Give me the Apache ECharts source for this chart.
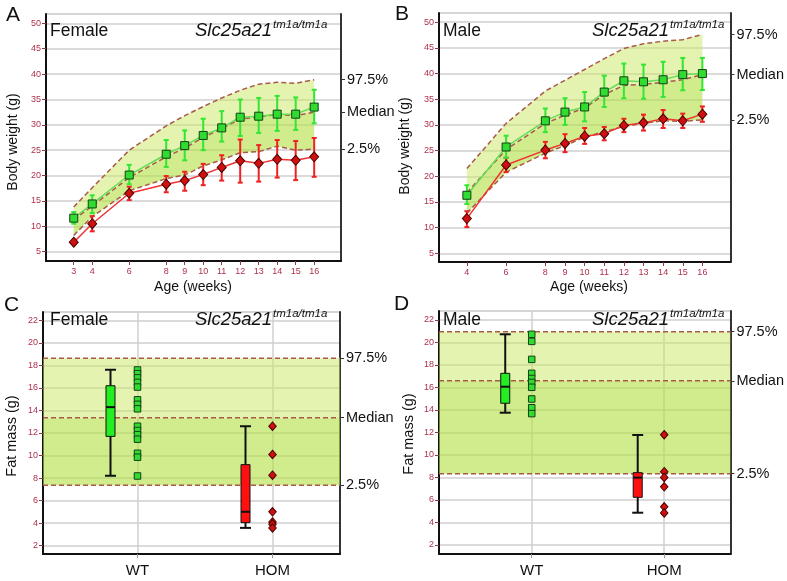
<!DOCTYPE html>
<html><head><meta charset="utf-8">
<script src="https://cdn.jsdelivr.net/npm/echarts@6/dist/echarts.min.js"></script>
<style>html,body{margin:0;padding:0;background:#fff}#c{width:787px;height:581px}</style>
</head><body><div id="c"></div>
<script>
// ---------- Panel A (Female body weight) ----------
const weeksA = [3,4,6,8,9,10,11,12,13,14,15,16];
const wtMeanA = [11.6,14.4,20.1,24.2,25.9,27.9,29.4,31.5,31.7,32.1,32.1,33.5];
const wtLowA  = [10.5,12.6,18.3,21.7,23.0,25.0,26.7,27.8,28.4,28.8,29.0,30.3];
const wtHighA = [12.8,16.1,22.1,27.0,28.9,31.2,32.7,35.0,35.3,35.7,35.4,36.9];
const homMeanA = [6.85,10.5,16.5,18.3,19.0,20.2,21.6,22.9,22.4,23.2,23.0,23.7];
const homLowA  = [6.85,9.0,15.15,16.7,17.0,18.1,19.0,18.6,18.8,19.6,19.1,19.75];
const homHighA = [6.85,12.0,17.8,19.9,20.75,22.3,24.0,27.1,26.0,27.0,26.8,27.4];
const bandUpperA  = [13.8,17.6,25.0,29.8,31.8,33.6,35.3,36.8,38.0,38.4,38.2,38.9];
const bandMedianA = [11.3,14.0,19.6,23.7,25.4,27.5,29.3,31.1,31.6,32.0,31.8,32.5];
const bandLowerA  = [8.2,11.9,17.0,19.4,20.1,21.9,23.1,24.5,24.7,25.8,25.0,25.2];

// ---------- Panel B (Male body weight) ----------
const weeksB = [4,6,8,9,10,11,12,13,14,15,16];
const wtMeanB = [16.3,25.7,30.8,32.5,33.5,36.4,38.6,38.4,38.8,39.8,40.0];
const wtLowB  = [14.6,23.6,28.6,30.0,30.7,33.5,35.2,35.1,35.45,36.75,36.8];
const wtHighB = [18.25,27.9,33.2,35.2,36.4,39.6,41.95,41.75,42.3,43.05,43.05];
const homMeanB = [11.75,22.2,25.1,26.4,27.8,28.3,29.9,30.4,31.2,30.8,32.1];
const homLowB  = [10.1,20.8,23.5,24.7,26.3,27.0,28.6,28.9,29.4,29.4,30.6];
const homHighB = [13.2,23.6,26.7,28.2,29.4,29.6,31.2,32.0,32.9,32.2,33.6];
const bandUpperB  = [21.5,30.3,36.6,38.7,40.8,42.9,44.9,45.8,46.3,46.6,47.6];
const bandMedianB = [16.8,25.2,30.3,31.9,33.3,35.9,37.7,37.9,38.3,38.8,39.8];
const bandLowerB  = [12.8,20.8,24.5,26.0,27.6,28.7,29.7,30.3,30.8,30.7,31.0];

// ---------- Panels C/D (Fat mass) ----------
const boxCats = ['WT','HOM'];
// [min, q1, median, q3, max]
const boxC = [[8.2,11.7,14.3,16.2,17.62],[3.57,4.04,5.0,9.19,12.6]];
const ptsWtC  = [17.6,17.27,16.9,16.5,16.08,14.95,14.55,14.15,12.6,12.22,11.85,11.45,10.2,9.85,8.18];
const ptsHomC = [12.6,10.1,8.25,5.0,4.1,3.9,3.57];
const refC = [7.36,13.36,18.63];   // 2.5%, Median, 97.5%
const boxD = [[13.76,14.6,16.07,17.26,20.73],[4.87,6.24,7.99,8.43,11.78]];
const ptsWtD  = [20.73,20.1,18.5,17.26,16.8,16.45,16.02,14.98,14.2,13.68];
const ptsHomD = [11.8,8.52,8.01,7.17,5.39,4.85];
const refD = [8.34,16.6,20.96];
const refNames = ['2.5%','Median','97.5%'];

// ---------- styles ----------
const FONT = '"Liberation Sans", Arial, sans-serif';
const TICK_RED = '#b0304a';
const GRID_GRAY = '#cfcfcf';
const DASH = '#a85a48';
const BAND_LIGHT = 'rgba(201,233,97,0.5)';
const BAND_DARK = 'rgba(177,223,63,0.6)';
const WT_FILL = '#2fdc2f', WT_LINE = '#66dd55', WT_ERR = '#33e633', WT_EDGE = '#154015';
const HOM_FILL = '#d01010', HOM_LINE = '#ee3333', HOM_ERR = '#ee2222', HOM_EDGE = '#4a0000';
const BOX_COLORS = ['#22ee22', '#ff1010'];
const BOX_SHIFT = 0.2;

const X_A = [1.5, 17.45], X_B = [2.58, 17.43], X_CD = [0.3, 2.5];
const Y_A = [3.15, 51.85], Y_B = [3.3, 51.8], Y_C = [1.25, 22.75], Y_D = [1.2, 22.8];

const chart = echarts.init(document.getElementById('c'), null, {renderer: 'canvas'});

function leftY(gi, ext, step) {
  return {type: 'value', gridIndex: gi, position: 'left', min: ext[0], max: ext[1],
    splitNumber: Math.round((ext[1] - ext[0]) / step), minInterval: step, maxInterval: step,
    axisLine: {show: true, onZero: false, lineStyle: {color: '#111', width: 2}},
    axisTick: {show: true, length: 4, lineStyle: {color: '#8a3a4a'}},
    axisLabel: {color: TICK_RED, fontSize: 9, fontFamily: FONT, margin: 5, showMinLabel: false, showMaxLabel: false},
    splitLine: {show: true, lineStyle: {color: GRID_GRAY, width: 1.5}}};
}
function rightY(gi, ext, vals) {
  return {type: 'value', gridIndex: gi, position: 'right', min: ext[0], max: ext[1],
    axisLine: {show: true, onZero: false, lineStyle: {color: '#333', width: 2}},
    axisTick: {show: true, length: 4, customValues: vals, lineStyle: {color: '#333'}},
    axisLabel: {show: true, customValues: vals, color: '#111', fontSize: 14.5, fontFamily: FONT, margin: 6,
      formatter: v => {
        let bi = 0, bd = Infinity;
        vals.forEach((t, i) => { const d = Math.abs(t - v); if (d < bd) { bd = d; bi = i; } });
        return refNames[bi];
      }},
    splitLine: {show: false}};
}
function weekX(gi, ext, weeks) {
  return {type: 'value', gridIndex: gi, min: ext[0], max: ext[1],
    axisLine: {show: true, onZero: false, lineStyle: {color: '#111', width: 2}},
    axisTick: {show: true, length: 4, customValues: weeks, lineStyle: {color: '#8a3a4a'}},
    axisLabel: {customValues: weeks, color: TICK_RED, fontSize: 9, fontFamily: FONT, margin: 6},
    splitLine: {show: false}};
}
function catX(gi, ext) {
  return {type: 'value', gridIndex: gi, min: ext[0], max: ext[1], splitNumber: 2, minInterval: 1, maxInterval: 1,
    axisLine: {show: true, onZero: false, lineStyle: {color: '#111', width: 2}},
    axisTick: {show: true, length: 4, lineStyle: {color: '#999'}},
    axisLabel: {color: '#111', fontSize: 15, fontFamily: FONT, margin: 9, showMinLabel: false, showMaxLabel: false,
      formatter: v => (Math.abs(v - Math.round(v)) < 1e-6 && boxCats[Math.round(v) - 1]) || ''},
    splitLine: {show: true, lineStyle: {color: GRID_GRAY, width: 1.5}}};
}

function bandSeries(gi, xs, top, bottom, color) {
  return {type: 'custom', xAxisIndex: gi, yAxisIndex: gi, silent: true, z: 1,
    data: [[xs[0], bottom[0]]],
    renderItem: (p, api) => {
      const pts = [];
      for (let i = 0; i < xs.length; i++) pts.push(api.coord([xs[i], top[i]]));
      for (let i = xs.length - 1; i >= 0; i--) pts.push(api.coord([xs[i], bottom[i]]));
      return {type: 'polygon', shape: {points: pts}, style: {fill: color}};
    }};
}
function dashSeries(gi, xs, ys) {
  return {type: 'line', xAxisIndex: gi, yAxisIndex: gi, silent: true, z: 2, symbol: 'none',
    data: xs.map((x, i) => [x, ys[i]]),
    lineStyle: {color: DASH, width: 1.5, type: [5, 3]}};
}
function errSeries(gi, xs, lo, hi, color) {
  return {type: 'custom', xAxisIndex: gi, yAxisIndex: gi, silent: true, z: 3,
    data: xs.map((x, i) => [x, lo[i], hi[i]]),
    encode: {x: 0, y: [1, 2]},
    renderItem: (p, api) => {
      const x = api.value(0), lo = api.value(1), hi = api.value(2);
      if (hi - lo < 1e-6) return null;
      const a = api.coord([x, hi]), b = api.coord([x, lo]);
      const w = 2.5, st = {stroke: color, lineWidth: 2};
      return {type: 'group', children: [
        {type: 'line', shape: {x1: a[0], y1: a[1], x2: b[0], y2: b[1]}, style: st},
        {type: 'line', shape: {x1: a[0] - w, y1: a[1], x2: a[0] + w, y2: a[1]}, style: st},
        {type: 'line', shape: {x1: b[0] - w, y1: b[1], x2: b[0] + w, y2: b[1]}, style: st}
      ]};
    }};
}
function meanSeries(gi, xs, ys, isWT) {
  return {type: 'line', xAxisIndex: gi, yAxisIndex: gi, silent: true, z: 4,
    data: xs.map((x, i) => [x, ys[i]]),
    symbol: isWT ? 'rect' : 'diamond', symbolSize: isWT ? 8 : [9, 10], showAllSymbol: true,
    lineStyle: {color: isWT ? WT_LINE : HOM_LINE, width: 1.5},
    itemStyle: {color: isWT ? WT_FILL : HOM_FILL, borderColor: isWT ? WT_EDGE : HOM_EDGE, borderWidth: 1}};
}
function boxSeries(gi, stats) {
  return {type: 'custom', xAxisIndex: gi, yAxisIndex: gi, silent: true, z: 3,
    data: stats.map((s, i) => [i + 1 - BOX_SHIFT].concat(s)),
    encode: {x: 0, y: [1, 2, 3, 4, 5]},
    renderItem: (p, api) => {
      const x = api.value(0);
      const c = v => api.coord([x, v]);
      const cx = c(api.value(1))[0];
      const yMin = c(api.value(1))[1], yQ1 = c(api.value(2))[1], yMed = c(api.value(3))[1],
            yQ3 = c(api.value(4))[1], yMax = c(api.value(5))[1];
      const bw = 9, cw = 11, st = {stroke: '#111', lineWidth: 2};
      return {type: 'group', children: [
        {type: 'line', shape: {x1: cx, y1: yMax, x2: cx, y2: yQ3}, style: st},
        {type: 'line', shape: {x1: cx, y1: yQ1, x2: cx, y2: yMin}, style: st},
        {type: 'line', shape: {x1: cx - cw / 2, y1: yMax, x2: cx + cw / 2, y2: yMax}, style: st},
        {type: 'line', shape: {x1: cx - cw / 2, y1: yMin, x2: cx + cw / 2, y2: yMin}, style: st},
        {type: 'rect', shape: {x: cx - bw / 2, y: yQ3, width: bw, height: yQ1 - yQ3},
          style: {fill: BOX_COLORS[p.dataIndex], stroke: '#111', lineWidth: 1}},
        {type: 'line', shape: {x1: cx - bw / 2, y1: yMed, x2: cx + bw / 2, y2: yMed}, style: st}
      ]};
    }};
}
function ptSeries(gi, cat, ys, isWT) {
  return {type: 'scatter', xAxisIndex: gi, yAxisIndex: gi, silent: true, z: 4,
    data: ys.map(v => [cat, v]),
    symbol: isWT ? 'rect' : 'diamond', symbolSize: isWT ? 6.5 : [7.5, 8.5],
    itemStyle: {color: isWT ? WT_FILL : HOM_FILL, borderColor: isWT ? WT_EDGE : HOM_EDGE, borderWidth: 1, opacity: 1}};
}
function weightPanel(gi, weeks, wm, wl, wh, hm, hl, hh, bu, bm, bl) {
  return [
    bandSeries(gi, weeks, bu, bm, BAND_LIGHT),
    bandSeries(gi, weeks, bm, bl, BAND_DARK),
    dashSeries(gi, weeks, bu), dashSeries(gi, weeks, bm), dashSeries(gi, weeks, bl),
    meanSeries(gi, weeks, hm, false),
    errSeries(gi, weeks, hl, hh, HOM_ERR),
    meanSeries(gi, weeks, wm, true),
    errSeries(gi, weeks, wl, wh, WT_ERR)
  ];
}
function fatPanel(gi, ref, box, pw, ph) {
  const xs = X_CD;
  return [
    bandSeries(gi, xs, [ref[2], ref[2]], [ref[1], ref[1]], BAND_LIGHT),
    bandSeries(gi, xs, [ref[1], ref[1]], [ref[0], ref[0]], BAND_DARK),
    dashSeries(gi, xs, [ref[0], ref[0]]), dashSeries(gi, xs, [ref[1], ref[1]]), dashSeries(gi, xs, [ref[2], ref[2]]),
    boxSeries(gi, box),
    ptSeries(gi, 1, pw, true),
    ptSeries(gi, 2, ph, false)
  ];
}

const gridBase = {show: true, borderColor: '#cccccc', borderWidth: 1, backgroundColor: 'transparent', containLabel: false};

function txt(x, y, text, size, opts) {
  opts = opts || {};
  return {type: 'text', x: x, y: y, rotation: opts.rot || 0, silent: true, z: 100,
    style: {text: text, fill: '#111', align: opts.align || 'left', verticalAlign: 'middle',
      font: (opts.italic ? 'italic ' : '') + size + 'px ' + FONT}};
}

const option = {
  animation: false,
  backgroundColor: '#fff',
  grid: [
    Object.assign({left: 46, top: 14, width: 295, height: 247}, gridBase),
    Object.assign({left: 439, top: 13, width: 293, height: 249}, gridBase),
    Object.assign({left: 43, top: 312, width: 297, height: 242}, gridBase),
    Object.assign({left: 439, top: 311, width: 292, height: 243}, gridBase)
  ],
  xAxis: [weekX(0, X_A, weeksA), weekX(1, X_B, weeksB), catX(2, X_CD), catX(3, X_CD)],
  yAxis: [
    leftY(0, Y_A, 5), leftY(1, Y_B, 5), leftY(2, Y_C, 2), leftY(3, Y_D, 2),
    rightY(0, Y_A, [bandLowerA.at(-1), bandMedianA.at(-1), bandUpperA.at(-1)]),
    rightY(1, Y_B, [bandLowerB.at(-1), bandMedianB.at(-1), bandUpperB.at(-1)]),
    rightY(2, Y_C, refC),
    rightY(3, Y_D, refD)
  ],
  series: [].concat(
    weightPanel(0, weeksA, wtMeanA, wtLowA, wtHighA, homMeanA, homLowA, homHighA, bandUpperA, bandMedianA, bandLowerA),
    weightPanel(1, weeksB, wtMeanB, wtLowB, wtHighB, homMeanB, homLowB, homHighB, bandUpperB, bandMedianB, bandLowerB),
    fatPanel(2, refC, boxC, ptsWtC, ptsHomC),
    fatPanel(3, refD, boxD, ptsWtD, ptsHomD)
  ),
  graphic: [
    txt(6, 15, 'A', 21), txt(395, 14, 'B', 21), txt(4, 305, 'C', 21), txt(394, 304, 'D', 21),
    txt(50, 31, 'Female', 17.5), txt(195, 31, 'Slc25a21', 18.5, {italic: true}), txt(273, 24.5, 'tm1a/tm1a', 11.5, {italic: true}),
    txt(443, 31, 'Male', 17.5), txt(592, 31, 'Slc25a21', 18.5, {italic: true}), txt(670, 24.5, 'tm1a/tm1a', 11.5, {italic: true}),
    txt(50, 320, 'Female', 17.5), txt(195, 320, 'Slc25a21', 18.5, {italic: true}), txt(273, 313.5, 'tm1a/tm1a', 11.5, {italic: true}),
    txt(443, 320, 'Male', 17.5), txt(592, 320, 'Slc25a21', 18.5, {italic: true}), txt(670, 313.5, 'tm1a/tm1a', 11.5, {italic: true}),
    txt(13, 142, 'Body weight (g)', 14, {rot: Math.PI / 2, align: 'center'}),
    txt(405, 146, 'Body weight (g)', 14, {rot: Math.PI / 2, align: 'center'}),
    txt(12, 436, 'Fat mass (g)', 14.5, {rot: Math.PI / 2, align: 'center'}),
    txt(409, 434, 'Fat mass (g)', 14.5, {rot: Math.PI / 2, align: 'center'}),
    txt(193, 287, 'Age (weeks)', 14, {align: 'center'}),
    txt(589, 287, 'Age (weeks)', 14, {align: 'center'})
  ]
};
chart.setOption(option);
</script></body></html>
